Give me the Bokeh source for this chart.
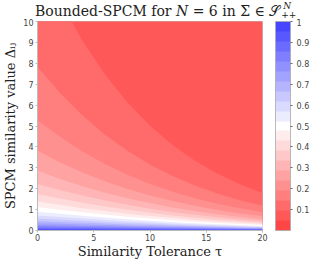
from bokeh.plotting import figure
from bokeh.layouts import column
from bokeh.models import ColorBar, LinearColorMapper, FixedTicker, Div
from bokeh.embed import file_html
from bokeh.resources import INLINE

# Similarity tolerance samples (x) and, for each contour level (value k/21),
# the SPCM similarity value (y) of that contour line.
tau = [0, 2, 4, 6, 8, 10, 12, 14, 16, 18, 20]
lvl02 = [13.3, 11.0, 9.07, 7.46, 6.12, 5.01, 4.09, 3.34, 2.72, 2.21, 1.79]
lvl03 = [7.84, 6.58, 5.5, 4.58, 3.81, 3.15, 2.61, 2.15, 1.77, 1.45, 1.19]
lvl04 = [5.28, 4.48, 3.78, 3.18, 2.67, 2.23, 1.86, 1.54, 1.28, 1.06, 0.872]
lvl05 = [3.81, 3.26, 2.78, 2.36, 1.99, 1.68, 1.41, 1.18, 0.981, 0.816, 0.677]
lvl06 = [2.87, 2.47, 2.12, 1.81, 1.54, 1.31, 1.10, 0.928, 0.778, 0.651, 0.543]
lvl07 = [2.22, 1.93, 1.67, 1.43, 1.23, 1.04, 0.886, 0.750, 0.632, 0.531, 0.444]
lvl08 = [1.75, 1.53, 1.33, 1.15, 0.989, 0.848, 0.723, 0.614, 0.520, 0.439, 0.369]
lvl09 = [1.39, 1.23, 1.07, 0.932, 0.807, 0.695, 0.595, 0.508, 0.432, 0.366, 0.309]
lvl10 = [1.12, 0.988, 0.869, 0.76, 0.661, 0.572, 0.493, 0.423, 0.361, 0.307, 0.26]
lvl11 = [0.896, 0.799, 0.707, 0.621, 0.543, 0.472, 0.409, 0.352, 0.302, 0.258, 0.22]
lvl12 = [0.718, 0.644, 0.573, 0.507, 0.445, 0.389, 0.338, 0.293, 0.252, 0.216, 0.185]
lvl13 = [0.572, 0.516, 0.462, 0.411, 0.363, 0.319, 0.279, 0.242, 0.21, 0.181, 0.155]
lvl14 = [0.451, 0.409, 0.369, 0.33, 0.293, 0.259, 0.227, 0.199, 0.173, 0.149, 0.129]
lvl15 = [0.349, 0.319, 0.289, 0.261, 0.233, 0.207, 0.183, 0.16, 0.14, 0.122, 0.105]
lvl16 = [0.263, 0.242, 0.221, 0.201, 0.181, 0.161, 0.143, 0.127, 0.111, 0.0971, 0.0845]
lvl17 = [0.19, 0.176, 0.163, 0.149, 0.135, 0.121, 0.108, 0.0964, 0.0852, 0.0749, 0.0655]
lvl18 = [0.128, 0.12, 0.112, 0.103, 0.0944, 0.0857, 0.0773, 0.0693, 0.0617, 0.0546, 0.0481]
lvl19 = [0.0752, 0.0718, 0.0678, 0.0634, 0.0587, 0.054, 0.0493, 0.0446, 0.0401, 0.0359, 0.0319]
lvl20 = [0.032, 0.0312, 0.0302, 0.0288, 0.0273, 0.0255, 0.0237, 0.0219, 0.02, 0.0182, 0.0164]
# contour k separates band k-1 (above) from band k (below); band 1 fills the top
contours = {2: lvl02, 3: lvl03, 4: lvl04, 5: lvl05, 6: lvl06, 7: lvl07, 8: lvl08,
            9: lvl09, 10: lvl10, 11: lvl11, 12: lvl12, 13: lvl13, 14: lvl14,
            15: lvl15, 16: lvl16, 17: lvl17, 18: lvl18, 19: lvl19, 20: lvl20}

cbar_ticks = [0.1, 0.2, 0.3, 0.4, 0.5, 0.6, 0.7, 0.8, 0.9, 1]
x_ticks = [0, 5, 10, 15, 20]
y_ticks = [0, 1, 2, 3, 4, 5, 6, 7, 8, 9, 10]

def col(j):
    if j <= 10:
        g = 70 + (255 - 70) * j / 10
        return "#%02x%02x%02x" % (255, round(g), round(g))
    g = 70 + (255 - 70) * (20 - j) / 10
    return "#%02x%02x%02x" % (round(g), round(g), 255)

palette = [col(j) for j in range(21)]

fig = figure(frame_width=225, frame_height=209, x_range=(0, 20), y_range=(0, 10),
             output_backend="svg", toolbar_location=None, title=None,
             min_border_left=37, min_border_right=58, min_border_top=3, min_border_bottom=0)
fig.border_fill_alpha = 0
top = [12.0] * len(tau)
fig.varea(x=tau, y1=0, y2=top, fill_color=palette[1])
for j in range(2, 21):
    fig.varea(x=tau, y1=0, y2=contours[j], fill_color=palette[j])

fig.grid.visible = False
fig.outline_line_color = "#bbbbbb"
for ax in (fig.xaxis[0], fig.yaxis[0]):
    ax.axis_line_color = "#bbbbbb"
    ax.major_tick_line_color = "#bbbbbb"
    ax.minor_tick_line_color = None
    ax.major_tick_out = 2
    ax.major_tick_in = 0
    ax.major_label_text_font = "DejaVu Sans"
    ax.major_label_text_font_size = "8px"
    ax.major_label_text_color = "#444444"
    ax.axis_label_text_font = "DejaVu Serif"
    ax.axis_label_text_font_style = "normal"
    ax.axis_label_text_font_size = "13px"
    ax.axis_label_text_color = "#222222"
    ax.major_label_standoff = 2
fig.xaxis[0].major_label_standoff = 1
fig.xaxis[0].axis_label_standoff = 0
fig.yaxis[0].axis_label_standoff = 2
fig.xaxis[0].ticker = FixedTicker(ticks=x_ticks)
fig.yaxis[0].ticker = FixedTicker(ticks=y_ticks)
fig.xaxis[0].axis_label = "Similarity Tolerance τ"
fig.yaxis[0].axis_label = "SPCM similarity value Δᵢⱼ"

mapper = LinearColorMapper(palette=palette, low=0, high=1)
cb = ColorBar(color_mapper=mapper, width=15, padding=0, margin=0, location=(13, 0),
              ticker=FixedTicker(ticks=cbar_ticks),
              major_label_overrides={1: "1"}, major_label_text_font="DejaVu Sans",
              major_label_text_font_size="8px", major_label_text_color="#444444",
              major_tick_line_color="#666666", major_tick_out=2, major_tick_in=0,
              label_standoff=4, bar_line_color="#aaaaaa", bar_line_width=0.8,
              border_line_color=None, background_fill_alpha=0)
fig.add_layout(cb, "right")

title_html = (
    '<div style="font-family:\'DejaVu Serif\',serif;font-size:14px;line-height:17px;'
    'color:#222222;padding-left:35px;padding-top:3px;white-space:nowrap;">'
    'Bounded-SPCM for <i>N</i> = 6 in Σ ∈ 𝒮'
    '<span style="display:inline-block;position:relative;width:14px;height:12px;margin-left:1px;">'
    '<i style="position:absolute;left:2px;top:-2px;font-size:9px;line-height:8px;">N</i>'
    '<span style="position:absolute;left:0px;top:7px;font-size:9px;line-height:8px;">++</span>'
    '</span></div>')
title_div = Div(text=title_html, width=320, height=18, margin=0)

p = column(title_div, fig, spacing=0)
open("out.html", "w").write(file_html(p, INLINE))
